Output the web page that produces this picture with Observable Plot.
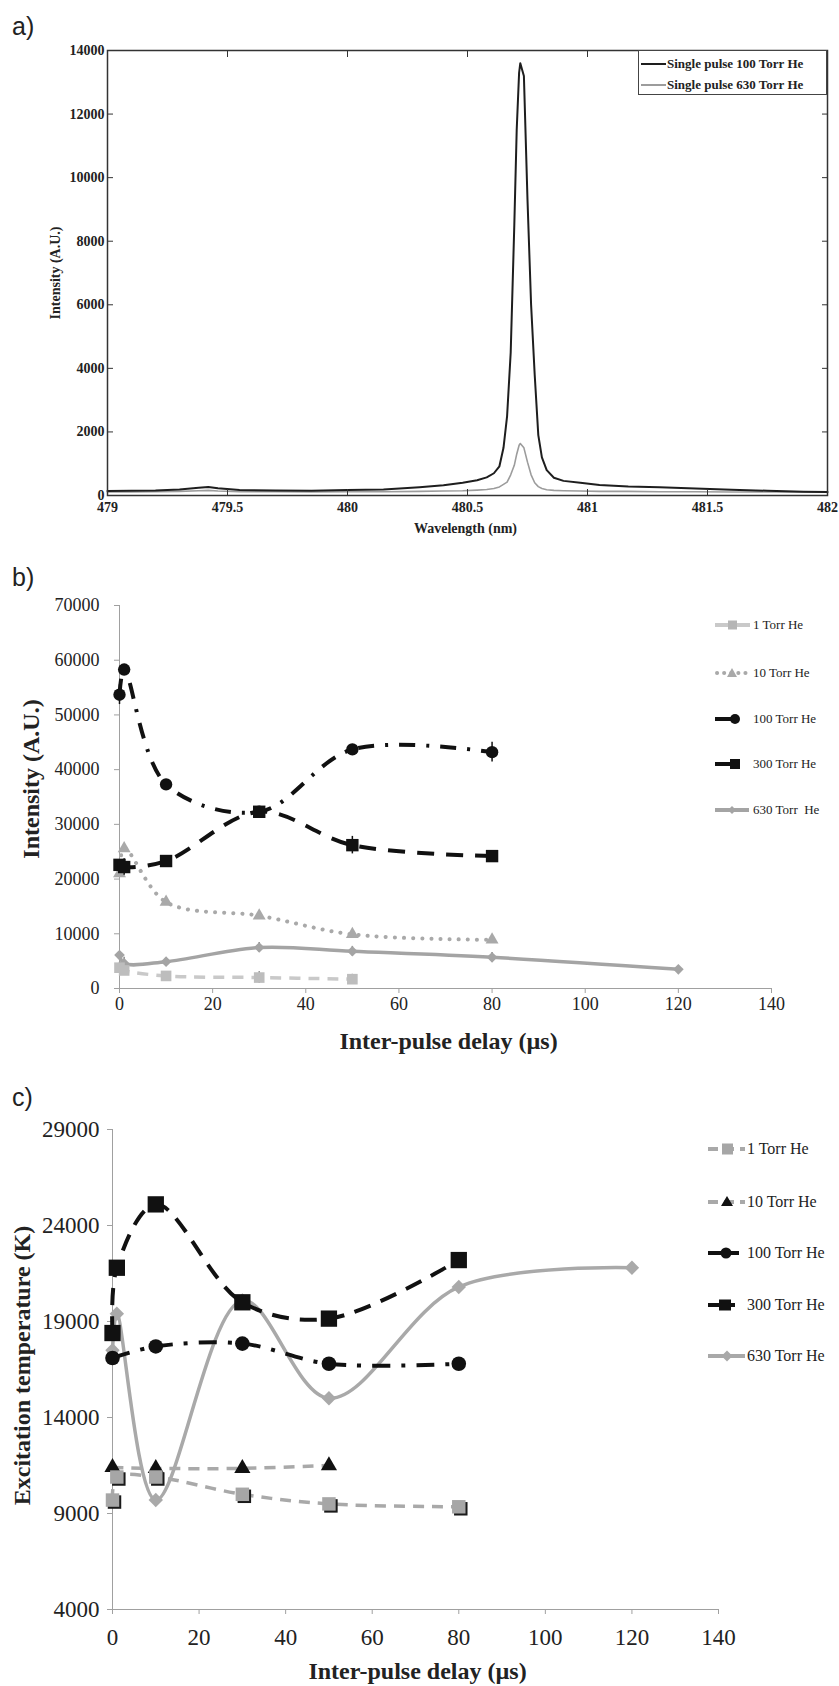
<!DOCTYPE html>
<html><head><meta charset="utf-8">
<script src="https://cdn.jsdelivr.net/npm/d3@7"></script>
<script src="https://cdn.jsdelivr.net/npm/@observablehq/plot@0.6"></script>
<style>
body{margin:0;background:#fff;}
#root{position:relative;width:839px;height:1686px;overflow:hidden;font-family:"Liberation Serif","Times New Roman",serif;color:#222;}
.plabel{position:absolute;font-family:"Liberation Sans",Arial,sans-serif;font-size:25px;line-height:25px;color:#222;z-index:5;}
.leg{position:absolute;display:flex;align-items:center;white-space:pre;color:#222;}
.leg svg{flex:none;}
</style></head><body><div id="root"></div>
<script>
// ---------- Panel a: spectra ----------
const wavelength = [479.00,479.10,479.20,479.30,479.38,479.42,479.46,479.55,479.70,479.85,480.00,480.15,480.30,480.40,480.48,480.54,480.58,480.61,480.633,480.65,480.665,480.68,480.695,480.705,480.715,480.72,480.735,480.75,480.765,480.78,480.795,480.81,480.83,480.86,480.90,480.97,481.05,481.17,481.30,481.45,481.60,481.75,481.90,482.00];
const single100 = [140,150,160,190,240,270,230,170,160,150,170,190,260,320,400,480,570,700,920,1500,2500,4500,8500,11500,13300,13600,13200,9300,6000,3800,1900,1200,800,560,460,400,330,280,260,220,180,150,120,110];
const single630 = [110,110,120,130,150,160,140,120,120,110,120,120,130,140,150,170,190,220,270,350,420,650,950,1300,1580,1635,1500,1050,650,400,280,220,180,160,150,140,130,130,120,120,110,110,110,100];
const aXTicks = [479, 479.5, 480, 480.5, 481, 481.5, 482];
const aYTicks = [0, 2000, 4000, 6000, 8000, 10000, 12000, 14000];
const aLegend = ["Single pulse 100 Torr He", "Single pulse 630 Torr He"];

// ---------- Panel b: intensity vs delay ----------
const bDelay1 = [0, 1, 10, 30, 50];
const bInt1 = [3800, 3300, 2300, 2000, 1700];
const bErr1 = [1000, 0, 0, 1100, 900];
const bDelay10 = [0, 1, 10, 30, 50, 80];
const bInt10 = [21000, 25600, 15800, 13300, 9900, 8900];
const bDelay100 = [0, 1, 10, 30, 50, 80];
const bInt100 = [53700, 58300, 37300, 32300, 43700, 43200];
const bErr100 = [1800, 0, 0, 0, 0, 1800];
const bDelay300 = [0, 1, 10, 30, 50, 80];
const bInt300 = [22600, 22200, 23300, 32300, 26200, 24200];
const bErr300 = [0, 1500, 0, 0, 1600, 0];
const bDelay630 = [0, 1, 10, 30, 50, 80, 120];
const bInt630 = [6100, 4600, 4900, 7500, 6800, 5700, 3500];
const bErr630 = [0, 1100, 0, 900, 900, 900, 0];
const bXTicks = [0, 20, 40, 60, 80, 100, 120, 140];
const bYTicks = [0, 10000, 20000, 30000, 40000, 50000, 60000, 70000];
const bLegend = ["1 Torr He", "10 Torr He", "100 Torr He", "300 Torr He", "630 Torr  He"];

// ---------- Panel c: excitation temperature vs delay ----------
const cDelay1 = [0, 1, 10, 30, 50, 80];
const cTemp1 = [9700, 10900, 10900, 10000, 9500, 9350];
const cDelay10 = [0, 10, 30, 50];
const cTemp10 = [11400, 11350, 11350, 11500];
const cDelay100 = [0, 10, 30, 50, 80];
const cTemp100 = [17100, 17700, 17850, 16800, 16800];
const cDelay300 = [0, 1, 10, 30, 50, 80];
const cTemp300 = [18400, 21800, 25100, 20000, 19150, 22200];
const cDelay630 = [0, 1, 10, 30, 50, 80, 120];
const cTemp630 = [17500, 19400, 9700, 20100, 15000, 20800, 21800];
const cXTicks = [0, 20, 40, 60, 80, 100, 120, 140];
const cYTicks = [4000, 9000, 14000, 19000, 24000, 29000];
const cLegend = ["1 Torr He", "10 Torr He", "100 Torr He", "300 Torr He", "630 Torr He"];

const root = document.getElementById("root");
function place(el, top, left = 0) {
  const d = document.createElement("div");
  d.style.cssText = `position:absolute;left:${left}px;top:${top}px;`;
  d.appendChild(el);
  root.appendChild(d);
  return d;
}
function panelLabel(txt, top) {
  const d = document.createElement("div");
  d.className = "plabel";
  d.style.left = "12px"; d.style.top = top + "px";
  d.textContent = txt;
  root.appendChild(d);
}
const fmt = d => String(d);
const errY1 = (v, e) => v.map((y, i) => y - e[i]);
const errY2 = (v, e) => v.map((y, i) => y + e[i]);
const hasErr = e => e.map(x => x > 0);

// ===== Panel a =====
const plotA = Plot.plot({
  width: 839, height: 500,
  marginLeft: 107, marginRight: 12, marginTop: 10, marginBottom: 45,
  x: {domain: [479, 482]},
  y: {domain: [0, 14000]},
  style: {fontFamily: "Liberation Serif", fontSize: "14px", fontWeight: "bold", color: "#222", overflow: "visible", background: "transparent"},
  marks: [
    Plot.line(wavelength, {x: wavelength, y: single630, stroke: "#9c9c9c", strokeWidth: 1.6}),
    Plot.line(wavelength, {x: wavelength, y: single100, stroke: "#1e1e1e", strokeWidth: 2}),
    Plot.frame({stroke: "#333", strokeWidth: 1.5}),
    Plot.axisY({ticks: aYTicks, anchor: "left", tickSize: 6, dx: 6, fill: "none", stroke: "#333", label: null}),
    Plot.axisY({ticks: aYTicks, anchor: "right", tickSize: 6, dx: -6, fill: "none", stroke: "#333", label: null}),
    Plot.axisX({ticks: aXTicks, anchor: "bottom", tickSize: 6, dy: -6, fill: "none", stroke: "#333", label: null}),
    Plot.axisX({ticks: aXTicks, anchor: "top", tickSize: 6, dy: 6, fill: "none", stroke: "#333", label: null}),
    Plot.axisY({ticks: aYTicks, anchor: "left", tickSize: 0, tickPadding: 3, stroke: "none", label: null, tickFormat: fmt, fontWeight: "bold"}),
    Plot.axisX({ticks: aXTicks, anchor: "bottom", tickSize: 0, tickPadding: 7, stroke: "none", label: null, tickFormat: fmt, fontWeight: "bold"}),
    Plot.text(["Intensity (A.U.)"], {text: d => d, frameAnchor: "left", textAnchor: "middle", rotate: -90, dx: -52, fontWeight: "bold", fontSize: 14, lineAnchor: "middle"}),
    Plot.text(["Wavelength (nm)"], {text: d => d, frameAnchor: "bottom", textAnchor: "middle", dy: 33, dx: -2, fontWeight: "bold", fontSize: 14, lineAnchor: "middle"})
  ]
});
place(plotA, 40);
panelLabel("a)", 14);
// legend box for a
(() => {
  const box = document.createElement("div");
  box.style.cssText = "position:absolute;left:638px;top:50px;width:189px;height:45px;box-sizing:border-box;border:1.5px solid #444;background:#fff;";
  root.appendChild(box);
  const cols = ["#1e1e1e", "#9c9c9c"];
  aLegend.forEach((t, i) => {
    const row = document.createElement("div");
    row.className = "leg";
    row.style.left = "641px"; row.style.top = (55 + i * 21) + "px"; row.style.height = "18px";
    row.style.fontWeight = "bold"; row.style.fontSize = "13px";
    row.innerHTML = `<svg width="25" height="18"><line x1="0" y1="9" x2="25" y2="9" stroke="${cols[i]}" stroke-width="2"/></svg><span style="margin-left:1px">${t}</span>`;
    root.appendChild(row);
  });
})();

// ===== Panel b =====
const gB1 = "#c9c9c9", gB10 = "#a9a9a9", gB630 = "#a4a4a4", blk = "#111";
const plotB = Plot.plot({
  width: 839, height: 470,
  marginLeft: 119, marginRight: 68, marginTop: 15, marginBottom: 72,
  x: {domain: [0, 140]},
  y: {domain: [0, 70000]},
  style: {fontFamily: "Liberation Serif", fontSize: "18px", color: "#222", overflow: "visible", background: "transparent"},
  marks: [
    Plot.ruleX([0], {stroke: "#a0a0a0"}),
    Plot.ruleY([0], {stroke: "#a0a0a0"}),
    Plot.axisX({ticks: bXTicks, tickSize: 5, tickPadding: 4, stroke: "#a0a0a0", fill: "#222", label: null, tickFormat: fmt}),
    Plot.axisY({ticks: bYTicks, tickSize: 5, tickPadding: 15, stroke: "#a0a0a0", fill: "#222", label: null, tickFormat: fmt}),
    // 630 Torr
    Plot.line(bDelay630, {x: bDelay630, y: bInt630, stroke: gB630, strokeWidth: 3.5, curve: "catmull-rom"}),
    Plot.ruleX(bDelay630, {x: bDelay630, y1: errY1(bInt630, bErr630), y2: errY2(bInt630, bErr630), filter: hasErr(bErr630), stroke: "#8a8a8a", strokeWidth: 1.5}),
    Plot.dot(bDelay630, {x: bDelay630, y: bInt630, symbol: "diamond2", r: 4.8, fill: gB630, stroke: "none"}),
    // 1 Torr
    Plot.line(bDelay1, {x: bDelay1, y: bInt1, stroke: gB1, strokeWidth: 3.5, strokeDasharray: "11,8", strokeLinecap: "butt", curve: "catmull-rom"}),
    Plot.ruleX(bDelay1, {x: bDelay1, y1: errY1(bInt1, bErr1), y2: errY2(bInt1, bErr1), filter: hasErr(bErr1), stroke: "#999", strokeWidth: 1.5}),
    Plot.dot(bDelay1, {x: bDelay1, y: bInt1, symbol: "square", r: 6, fill: "#bdbdbd", stroke: "none"}),
    // 10 Torr
    Plot.line(bDelay10, {x: bDelay10, y: bInt10, stroke: gB10, strokeWidth: 4, strokeDasharray: "0.1,9", strokeLinecap: "round", curve: "catmull-rom"}),
    Plot.dot(bDelay10, {x: bDelay10, y: bInt10, symbol: "triangle", r: 4.8, fill: gB10, stroke: "none"}),
    // 100 Torr
    Plot.line(bDelay100, {x: bDelay100, y: bInt100, stroke: blk, strokeWidth: 4, strokeDasharray: "16,11,3,11", strokeLinecap: "butt", curve: "catmull-rom"}),
    Plot.ruleX(bDelay100, {x: bDelay100, y1: errY1(bInt100, bErr100), y2: errY2(bInt100, bErr100), filter: hasErr(bErr100), stroke: blk, strokeWidth: 1.5}),
    Plot.dot(bDelay100, {x: bDelay100, y: bInt100, symbol: "circle", r: 6.2, fill: blk, stroke: "none"}),
    // 300 Torr
    Plot.line(bDelay300, {x: bDelay300, y: bInt300, stroke: blk, strokeWidth: 4, strokeDasharray: "17,12", strokeLinecap: "butt", curve: "catmull-rom"}),
    Plot.ruleX(bDelay300, {x: bDelay300, y1: errY1(bInt300, bErr300), y2: errY2(bInt300, bErr300), filter: hasErr(bErr300), stroke: blk, strokeWidth: 1.5}),
    Plot.dot(bDelay300, {x: bDelay300, y: bInt300, symbol: "square", r: 7, fill: blk, stroke: "none"}),
    Plot.text(["Intensity (A.U.)"], {text: d => d, frameAnchor: "left", textAnchor: "middle", rotate: -90, dx: -88, dy: -18, fontWeight: "bold", fontSize: 24, lineAnchor: "middle"}),
    Plot.text(["Inter-pulse delay (µs)"], {text: d => d, frameAnchor: "bottom", textAnchor: "middle", dy: 53, dx: 3, fontWeight: "bold", fontSize: 24, lineAnchor: "middle"})
  ]
});
place(plotB, 590);
panelLabel("b)", 565);

// legend b
(() => {
  const ys = [625, 673, 719, 764, 810];
  const samples = [
    `<line x1="0" y1="10" x2="35" y2="10" stroke="${gB1}" stroke-width="4"/><rect x="13" y="5.5" width="9" height="9" fill="#b5b5b5"/>`,
    `<line x1="2" y1="10" x2="36" y2="10" stroke="${gB10}" stroke-width="4" stroke-dasharray="0.1,7" stroke-linecap="round"/><polygon points="17,5 22,14 12,14" fill="${gB10}"/>`,
    `<line x1="0" y1="10" x2="18" y2="10" stroke="${blk}" stroke-width="4"/><circle cx="20" cy="10" r="5" fill="${blk}"/>`,
    `<line x1="0" y1="10" x2="16" y2="10" stroke="${blk}" stroke-width="4"/><rect x="15" y="5" width="10" height="10" fill="${blk}"/>`,
    `<line x1="0" y1="10" x2="34" y2="10" stroke="${gB630}" stroke-width="4"/><polygon points="17,6 21,10 17,14 13,10" fill="${gB630}"/>`
  ];
  bLegend.forEach((t, i) => {
    const row = document.createElement("div");
    row.className = "leg";
    row.style.left = "715px"; row.style.top = (ys[i] - 10) + "px"; row.style.height = "20px"; row.style.fontSize = "13px";
    row.innerHTML = `<svg width="38" height="20">${samples[i]}</svg><span>${t}</span>`;
    root.appendChild(row);
  });
})();

// ===== Panel c =====
const gC = "#a9a9a9";
const plotC = Plot.plot({
  width: 839, height: 571,
  marginLeft: 112, marginRight: 121, marginTop: 14, marginBottom: 77,
  x: {domain: [0, 140]},
  y: {domain: [4000, 29000]},
  style: {fontFamily: "Liberation Serif", fontSize: "23px", color: "#222", overflow: "visible", background: "transparent"},
  marks: [
    Plot.ruleX([0], {stroke: "#a0a0a0"}),
    Plot.ruleY([4000], {stroke: "#a0a0a0"}),
    Plot.axisX({ticks: cXTicks, tickSize: 5, tickPadding: 14, stroke: "#a0a0a0", fill: "#222", label: null, tickFormat: fmt}),
    Plot.axisY({ticks: cYTicks, tickSize: 5, tickPadding: 8, stroke: "#a0a0a0", fill: "#222", label: null, tickFormat: fmt}),
    // 630 Torr
    Plot.line(cDelay630, {x: cDelay630, y: cTemp630, stroke: gC, strokeWidth: 3.5, curve: "catmull-rom"}),
    Plot.dot(cDelay630, {x: cDelay630, y: cTemp630, symbol: "diamond2", r: 6.5, fill: gC, stroke: "none"}),
    // 300 Torr
    Plot.line(cDelay300, {x: cDelay300, y: cTemp300, stroke: blk, strokeWidth: 4, strokeDasharray: "17,11", strokeLinecap: "butt", curve: "catmull-rom"}),
    Plot.dot(cDelay300, {x: cDelay300, y: cTemp300, symbol: "square", r: 9.2, fill: blk, stroke: "none"}),
    // 100 Torr
    Plot.line(cDelay100, {x: cDelay100, y: cTemp100, stroke: blk, strokeWidth: 4, strokeDasharray: "18,11,4,11", strokeLinecap: "butt", curve: "catmull-rom"}),
    Plot.dot(cDelay100, {x: cDelay100, y: cTemp100, symbol: "circle", r: 7.3, fill: blk, stroke: "none"}),
    // 10 Torr
    Plot.line(cDelay10, {x: cDelay10, y: cTemp10, stroke: gC, strokeWidth: 3.5, strokeDasharray: "11,8", strokeLinecap: "butt", curve: "catmull-rom"}),
    Plot.dot(cDelay10, {x: cDelay10, y: cTemp10, symbol: "triangle", r: 6, fill: blk, stroke: "none"}),
    // 1 Torr
    Plot.line(cDelay1, {x: cDelay1, y: cTemp1, stroke: gC, strokeWidth: 3.5, strokeDasharray: "11,8", strokeLinecap: "butt", curve: "catmull-rom"}),
    Plot.dot(cDelay1, {x: cDelay1, y: cTemp1, symbol: "square", r: 7.6, fill: "#1a1a1a", stroke: "none", dx: 2, dy: 2}),
    Plot.dot(cDelay1, {x: cDelay1, y: cTemp1, symbol: "square", r: 7.6, fill: "#a6a6a6", stroke: "none"}),
    Plot.text(["Excitation temperature (K)"], {text: d => d, frameAnchor: "left", textAnchor: "middle", rotate: -90, dx: -90, dy: -4, fontWeight: "bold", fontSize: 24, lineAnchor: "middle"}),
    Plot.text(["Inter-pulse delay (µs)"], {text: d => d, frameAnchor: "bottom", textAnchor: "middle", dy: 62, dx: 2, fontWeight: "bold", fontSize: 24, lineAnchor: "middle"})
  ]
});
place(plotC, 1115);
panelLabel("c)", 1085);

// legend c
(() => {
  const ys = [1149, 1202, 1253, 1305, 1356];
  const samples = [
    `<line x1="0" y1="11" x2="37" y2="11" stroke="${gC}" stroke-width="4" stroke-dasharray="10,6"/><rect x="14" y="5.5" width="11" height="11" fill="#a6a6a6"/>`,
    `<line x1="0" y1="11" x2="37" y2="11" stroke="${gC}" stroke-width="4" stroke-dasharray="10,6"/><polygon points="19,5 25,15 13,15" fill="${blk}"/>`,
    `<line x1="0" y1="11" x2="31" y2="11" stroke="${blk}" stroke-width="4"/><circle cx="18" cy="11" r="5.5" fill="${blk}"/>`,
    `<line x1="0" y1="11" x2="27" y2="11" stroke="${blk}" stroke-width="4"/><rect x="11" y="5.5" width="12" height="11" fill="${blk}"/>`,
    `<line x1="0" y1="11" x2="37" y2="11" stroke="${gC}" stroke-width="4"/><polygon points="19,5.5 24.5,11 19,16.5 13.5,11" fill="${gC}"/>`
  ];
  cLegend.forEach((t, i) => {
    const row = document.createElement("div");
    row.className = "leg";
    row.style.left = "708px"; row.style.top = (ys[i] - 11) + "px"; row.style.height = "22px"; row.style.fontSize = "16px";
    row.innerHTML = `<svg width="39" height="22">${samples[i]}</svg><span>${t}</span>`;
    root.appendChild(row);
  });
})();
</script>
</body></html>
